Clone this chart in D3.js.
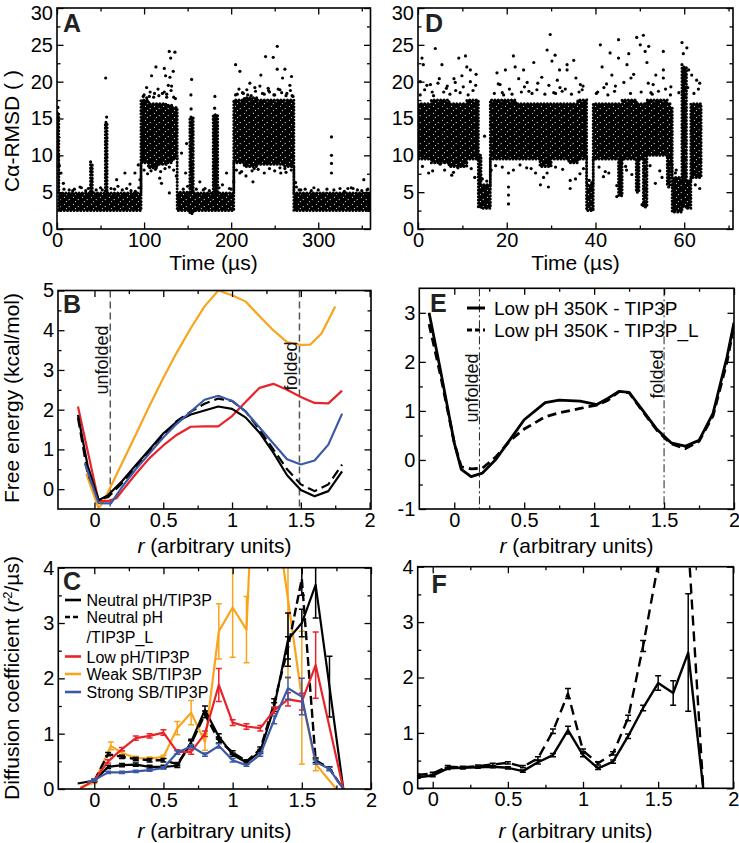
<!DOCTYPE html>
<html><head><meta charset="utf-8">
<script src="https://cdn.jsdelivr.net/npm/d3@7"></script>
<style>body{margin:0;background:#fff} svg{display:block}</style>
</head><body>
<script>
// ---------- Panel A: scatter (dense bands as envelopes + isolated points) ----------
const aBandT  = [0, 2, 38.5, 40.5, 55.5, 57.5, 96.5, 105, 115, 125, 132, 138, 152.6, 156.4, 179.4, 184.5, 203, 215, 230, 245, 260, 272, 360];
const aBandLo = [9.5, 2.5, 2.5, 2.5, 2.5, 2.5, 9, 8.3, 8.8, 9, 9.5, 2.5, 2.1, 2.5, 2.5, 2.5, 9, 8.5, 8.8, 8.8, 8.5, 2.5, 2.5];
const aBandHi = [15.8, 4.9, 8.8, 4.9, 14.5, 4.9, 17.5, 17, 17, 16.8, 16.5, 5, 15.2, 4.9, 15.5, 4.9, 17.5, 17.8, 17.5, 17.5, 17.5, 4.9, 4.9];
const aPtT = [55.9,102.9,108.6,113.6,123.2,129.7,133.5,128.9,135.4,130.5,124.7,123.2,127.8,131.6,154.6,153.8,181.3,205.1,210,221.5,227.2,234.1,239.5,248.3,252.9,252.9,259,261.7,269.3,267.4,256,242.5,315.2,315.2,315.2,315.2,352.3,274,275,97.2,93.3,95.3,89.5,78,68.5,83.8,118,120,129,110,4.6,7.3,2.7,26.4,38.6,39.8,143,148.8,147.7,164,194.7,203,210,225,226.5,257,261.7,340,28,45,62,70,85,150,170,190,285,300,325,338,350,14,20,33,50,75,90,160,175,198,280,292,310,330,345,357,100,106,112,117,126,134,207,213,219,236,244,250,264,270];
const aPtV = [20.5,19.2,20.8,22.0,21.8,20.6,21.4,24.1,24.0,23.2,20.8,18.6,19.5,19.4,20.3,18.2,18.0,22.3,21.4,19.8,19.2,20.9,23.4,23.3,24.8,21.7,20.5,21.7,20.7,19.5,18.9,19.1,12.5,10.0,8.9,7.6,6.7,6.3,5.7,9.4,8.7,6.7,7.6,7.6,6.7,6.1,6.9,6.2,4.9,8.5,7.6,6.2,8.6,5.7,9.1,6.0,10.3,11.6,7.6,6.4,7.6,6.4,7.6,6.4,8.2,7.6,8.2,5.5,5.6,5.3,5.5,5.8,5.2,5.8,5.5,6.0,5.4,5.3,5.5,5.6,5.2,5.3,5.4,5.2,5.6,5.3,5.1,5.4,5.2,5.5,5.3,5.2,5.4,5.1,5.3,5.4,18.2,18.0,18.4,18.1,18.3,17.9,18.3,18.5,18.2,18.4,18.6,18.2,18.4,18.1];
const aPtMore = [[99,18.0],[103,17.8],[107,18.6],[111,17.9],[116,19.0],[121,18.4],[126,17.9],[131,18.8],[136,17.7],[100,8.0],[104,7.5],[108,7.9],[113,8.1],[119,7.8],[124,8.2],[129,8.4],[134,8.0],[137,7.2],[205,18.2],[209,19.0],[214,18.4],[218,18.9],[223,18.1],[228,18.7],[233,19.4],[238,18.3],[243,18.8],[249,18.2],[254,19.0],[258,18.5],[263,18.1],[268,18.8],[271,18.0],[206,8.0],[212,7.8],[217,7.2],[224,7.9],[231,8.1],[238,7.6],[244,8.2],[250,7.9],[256,8.3],[263,7.7],[269,8.0],[1,16.5],[0.5,8.5],[57,15.2],[154,16.3],[181,16.4],[8,5.4],[18,5.2],[36,5.5],[52,5.3],[66,5.4],[80,5.5],[94,5.6],[145,5.4],[168,5.3],[186,5.6],[200,5.4],[278,5.3],[295,5.6],[318,5.3],[334,5.5],[356,5.3]];

// ---------- Panel D ----------
const dBandT  = [0, 3, 7, 11, 13.6, 14.2, 16.3, 22, 27.5, 30, 34, 36, 38, 39.5, 45.2, 46, 49.2, 49.8, 50.8, 51.6, 56.2, 56.8, 57.3, 59.5, 60.5, 61.5, 63.8];
const dBandLo = [9.5, 9, 8.5, 9.5, 3, 2.8, 9.5, 9.5, 8.5, 9.5, 9, 9.5, 2.5, 9.5, 4.5, 9.5, 5, 9.5, 3, 10, 6, 9, 2.3, 3, 2.8, 7, 7];
const dBandHi = [17, 17.5, 17, 17.5, 10, 6, 17.5, 17, 17, 17, 17, 17.5, 6, 17, 17, 17.5, 17, 17, 17, 17.5, 17, 16.5, 7, 22, 6.5, 17, 17];
const dPtT = [0.9,3.9,1.2,5.4,9.2,10.7,11,11.8,9.9,8.1,17.8,19.7,21.5,21.9,23.8,26.1,29.1,29.8,30.2,30.9,31.9,33.6,33.6,35.1,41.1,41.5,43.3,45.2,45.2,47.1,47.5,49.3,50.1,50.8,51.2,52.0,51.6,55.3,55.3,55.3,59.5,59.8,59.5,61,61.7,62.8,0.5,11.8,20.4,20.4,20.4,20.4,27.6,29.1,29.4,34.3,34.3,41.8,44.8,44.8,49.3,50.5,53.5,56.5,2.4,7.6,9.0,15,16.5,25.5,36.5,43,47,54.5,63,2,4.5,6.6,13,18.5,24,27,32,36.6,42.5,44.5,48,53,57,63.5,3.2,8.5,19,25,31,37,40.5,52.5,58.2];
const dPtV = [23.2,24.5,22.3,22.3,23.2,23.5,22,21.6,20.8,20.4,21.2,21.6,23.5,22,21.6,22.6,24.3,26.4,22.8,23.6,21.6,22.3,21.6,22.9,25.0,22.0,23.9,25.7,23.2,22.3,23.8,26.0,25.0,26.3,24.1,24.8,22.6,24.1,21.6,20.5,25.3,23.8,22.3,21.6,20.9,20.2,20.0,20.0,3.4,4.6,5.7,7.6,6.0,7.6,5.7,5.5,6.6,7.1,4.4,5.9,5.3,3.3,6.2,5.7,7.6,7.3,8.3,12.6,8.0,8.2,7.5,7.6,8.0,7.9,7.4,19.5,19.8,19.4,19.5,19.6,19.3,19.8,19.2,19.6,19.7,19.4,20.5,19.6,19.3,19.8,18.6,18.8,18.5,18.7,18.4,18.9,18.6,18.5,8.0];
const dPtMore = [[0.5,18.2],[1.5,18.9],[2.8,19.6],[3.5,18.1],[4.8,20.4],[5.8,18.6],[6.4,19.1],[7.2,18.3],[8.4,19.9],[9.5,18.5],[10.2,19.3],[11.3,18.2],[12.4,18.8],[13.1,21.0],[17.2,18.4],[18.1,19.7],[19.3,18.2],[20.6,19.0],[21.2,18.3],[22.7,20.4],[23.3,18.6],[24.6,19.9],[25.7,18.4],[26.8,18.9],[27.9,20.6],[28.6,18.3],[29.5,19.5],[30.6,18.5],[31.4,20.2],[32.5,18.7],[33.2,19.0],[34.6,18.3],[35.6,20.5],[36.3,18.6],[37.2,19.4],[40.2,18.4],[41.9,19.2],[42.8,18.2],[43.7,20.9],[44.3,18.7],[46.4,19.9],[47.9,18.4],[48.6,21.0],[50.3,18.6],[51.9,19.8],[52.8,18.3],[53.6,20.9],[54.2,18.7],[55.8,19.0],[56.9,18.2],[58.8,18.5],[60.8,19.2],[62.2,18.4],[63.2,19.0],[1,8.5],[3.3,7.9],[5,8.8],[6,8.0],[8,7.7],[10,8.6],[12,8.2],[12.8,7.0],[17.5,8.6],[19,8.4],[21.5,8.0],[23,8.7],[24.5,8.3],[26.5,7.6],[28.3,7.0],[31,8.4],[32.6,8.1],[35.5,6.8],[37.3,8.2],[40.8,8.4],[42.2,7.8],[46.8,8.5],[48.2,7.4],[52.3,8.6],[55,7.0],[57,8.3],[62.5,6.0],[63.5,5.5],[14.5,6.8],[15.5,6.5],[38.6,6.6],[39.2,6.3],[58,7.6],[60.6,24.6]];

// ---------- Panel B: free energy ----------
const bR        = [-0.12, -0.05, 0.03, 0.1, 0.2, 0.3, 0.4, 0.5, 0.6, 0.7, 0.8, 0.9, 1.0, 1.1, 1.2, 1.3, 1.4, 1.5, 1.6, 1.7, 1.8];
const bNeutral  = [1.87, 0.6, -0.28, -0.15, 0.2, 0.6, 1.0, 1.4, 1.7, 1.88, 1.98, 2.08, 2.02, 1.8, 1.42, 0.92, 0.35, -0.02, -0.18, -0.05, 0.45];
const bNeutralL = [1.8, 0.4, -0.25, -0.2, 0.15, 0.55, 0.95, 1.35, 1.72, 1.95, 2.15, 2.28, 2.22, 1.95, 1.5, 1.0, 0.5, 0.12, -0.05, 0.12, 0.62];
const bRedR  = [-0.12, 0.03, 0.1, 0.16, 0.2, 0.3, 0.4, 0.5, 0.6, 0.7, 0.8, 0.9, 1.0, 1.1, 1.2, 1.3, 1.4, 1.5, 1.6, 1.7, 1.8];
const bRed   = [2.08, -0.3, -0.3, -0.23, -0.05, 0.38, 0.78, 1.1, 1.37, 1.57, 1.58, 1.58, 1.84, 2.2, 2.55, 2.65, 2.5, 2.32, 2.17, 2.16, 2.48];
const bBlueR = [-0.07, 0.03, 0.12, 0.2, 0.3, 0.4, 0.5, 0.6, 0.7, 0.8, 0.9, 1.0, 1.1, 1.2, 1.3, 1.4, 1.5, 1.6, 1.7, 1.8];
const bBlue  = [0.65, -0.35, -0.36, 0.05, 0.5, 0.9, 1.3, 1.65, 1.95, 2.25, 2.35, 2.22, 1.95, 1.55, 1.15, 0.75, 0.62, 0.72, 1.12, 1.9];
const bOrR   = [-0.06, 0.03, 0.065, 0.2, 0.3, 0.4, 0.5, 0.6, 0.7, 0.8, 0.9, 1.0, 1.1, 1.2, 1.3, 1.4, 1.5, 1.57, 1.65, 1.75];
const bOr    = [0.39, -0.48, -0.32, 0.65, 1.37, 2.1, 2.8, 3.45, 4.05, 4.6, 5.0, 4.88, 4.72, 4.35, 4.0, 3.7, 3.63, 3.64, 3.92, 4.6];
const bMarks = [0.115, 1.49];

// ---------- Panel E ----------
const eR      = [-0.18, -0.1, 0.0, 0.05, 0.12, 0.2, 0.3, 0.4, 0.5, 0.65, 0.75, 0.9, 1.02, 1.1, 1.18, 1.25, 1.35, 1.45, 1.55, 1.65, 1.75, 1.85, 1.95, 2.0];
const eSolid  = [3.0, 1.85, 0.35, -0.19, -0.34, -0.27, 0.02, 0.42, 0.82, 1.17, 1.22, 1.2, 1.13, 1.26, 1.4, 1.38, 1.0, 0.62, 0.35, 0.28, 0.4, 0.95, 2.1, 2.8];
const eDashed = [2.77, 1.75, 0.35, -0.14, -0.18, -0.17, 0.07, 0.4, 0.63, 0.88, 0.96, 1.05, 1.12, 1.22, 1.4, 1.37, 0.98, 0.6, 0.33, 0.23, 0.38, 0.9, 2.0, 2.75];
const eMarks  = [0.18, 1.5];
const eLegend = ["Low pH 350K - TIP3P", "Low pH 350K - TIP3P_L"];

// ---------- Panel C: diffusion coefficient ----------
const cR           = [-0.12, 0, 0.1, 0.2, 0.3, 0.4, 0.5, 0.6, 0.7, 0.8, 0.9, 1.0, 1.1, 1.2, 1.3, 1.4, 1.5, 1.6, 1.7, 1.8];
const cNeutral     = [0.1, 0.15, 0.4, 0.43, 0.44, 0.4, 0.4, 0.42, 0.85, 1.43, 0.95, 0.62, 0.48, 0.68, 1.48, 2.7, 3.0, 3.69, 1.85, 0];
const cNeutralErr  = [0, 0.02, 0.03, 0.03, 0.03, 0.03, 0.03, 0.03, 0.05, 0.07, 0.05, 0.03, 0.03, 0.04, 0.08, 0.48, 0.25, 0.6, 0.55, 0];
const cLR          = [0, 0.1, 0.2, 0.3, 0.4, 0.5, 0.6, 0.7, 0.8, 0.9, 1.0, 1.1, 1.2, 1.3, 1.4, 1.5, 1.6, 1.7, 1.8];
const cNeutralL    = [0.15, 0.63, 0.58, 0.54, 0.52, 0.52, 0.45, 0.82, 1.35, 0.88, 0.66, 0.5, 0.72, 1.55, 2.55, 3.8, 0.52, 0.37, 0];
const cNeutralLErr = [0.02, 0.03, 0.03, 0.03, 0.03, 0.03, 0.03, 0.05, 0.06, 0.05, 0.03, 0.03, 0.04, 0.08, 0.2, 0.3, 0.04, 0.03, 0];
const cRedR   = [-0.1, 0, 0.1, 0.2, 0.3, 0.4, 0.5, 0.6, 0.7, 0.8, 0.9, 1.0, 1.1, 1.2, 1.3, 1.4, 1.5, 1.6, 1.8];
const cRed    = [0.01, 0.16, 0.5, 0.72, 0.92, 0.96, 1.02, 0.67, 0.67, 1.0, 1.88, 1.2, 1.13, 1.1, 1.42, 1.62, 1.58, 2.24, 0];
const cRedErr = [0, 0.02, 0.03, 0.03, 0.04, 0.04, 0.05, 0.04, 0.04, 0.05, 0.3, 0.05, 0.05, 0.05, 0.06, 0.12, 0.15, 0.6, 0];
const cBlueR   = [-0.05, 0, 0.1, 0.2, 0.3, 0.4, 0.5, 0.6, 0.7, 0.8, 0.9, 1.0, 1.1, 1.2, 1.3, 1.4, 1.5, 1.6, 1.7, 1.8];
const cBlue    = [0.12, 0.16, 0.3, 0.3, 0.32, 0.34, 0.38, 0.66, 0.77, 0.62, 0.78, 0.52, 0.43, 0.62, 1.25, 1.82, 1.67, 0.49, 0.36, 0];
const cBlueErr = [0, 0.02, 0.02, 0.02, 0.02, 0.02, 0.02, 0.03, 0.03, 0.03, 0.04, 0.03, 0.02, 0.03, 0.07, 0.2, 0.33, 0.04, 0.03, 0];
const cOrR   = [-0.1, 0, 0.12, 0.2, 0.3, 0.4, 0.5, 0.6, 0.7, 0.8, 0.9, 1.0, 1.1, 1.2, 1.3, 1.4, 1.5, 1.6, 1.75];
const cOr    = [0.03, 0.12, 0.78, 0.65, 0.56, 0.55, 0.58, 1.1, 1.38, 0.85, 2.85, 3.28, 2.88, 8.5, 5.2, 3.43, 1.65, 0.45, 0];
const cOrErr = [0, 0.02, 0.07, 0.03, 0.03, 0.03, 0.03, 0.12, 0.22, 0.15, 0.5, 0.9, 0.6, 0, 0, 1.43, 1.2, 0.12, 0];
const cLegend = ["Neutral pH/TIP3P", "Neutral pH", "/TIP3P_L", "Low pH/TIP3P", "Weak SB/TIP3P", "Strong SB/TIP3P"];

// ---------- Panel F ----------
const fR         = [-0.1, 0, 0.1, 0.2, 0.3, 0.4, 0.5, 0.6, 0.7, 0.8, 0.9, 1.0, 1.1, 1.2, 1.3, 1.4, 1.5, 1.6, 1.7, 1.8];
const fSolid     = [0.2, 0.23, 0.36, 0.37, 0.38, 0.39, 0.37, 0.31, 0.47, 0.6, 1.05, 0.6, 0.36, 0.48, 0.94, 1.45, 1.9, 1.72, 2.45, 0];
const fSolidErr  = [0.02, 0.02, 0.02, 0.02, 0.02, 0.02, 0.02, 0.02, 0.03, 0.03, 0.07, 0.03, 0.02, 0.03, 0.04, 0.05, 0.13, 0.22, 1.06, 0];
const fDashed    = [0.24, 0.27, 0.39, 0.38, 0.4, 0.43, 0.46, 0.39, 0.54, 1.03, 1.71, 0.68, 0.45, 0.63, 1.27, 2.57, 4.05, 5.5, 4.44, 0];
const fDashedErr = [0.02, 0.02, 0.02, 0.02, 0.02, 0.02, 0.02, 0.02, 0.03, 0.04, 0.09, 0.03, 0.03, 0.03, 0.05, 0.1, 0, 0, 0, 0];

const RED = "#e8232a", ORANGE = "#f9a51b", BLUE = "#3b59a6";
const FONT = '"Liberation Sans", Arial, Helvetica, sans-serif';

const svg = d3.select("body").append("svg").attr("width", 739).attr("height", 843)
  .style("font-family", FONT);
const defs = svg.append("defs");
// speckled texture for the dense scatter clouds
const pat = defs.append("pattern").attr("id", "speck").attr("patternUnits", "userSpaceOnUse")
  .attr("width", 9).attr("height", 7);
pat.append("rect").attr("width", 9).attr("height", 7).attr("fill", "#000");
[[1.5, 1.2], [6.2, 3.6], [3.4, 5.6]].forEach(c =>
  pat.append("circle").attr("cx", c[0]).attr("cy", c[1]).attr("r", 0.55).attr("fill", "#fff"));

function panel(o) {
  const x = d3.scaleLinear().domain(o.xd).range([o.l, o.r]);
  const y = d3.scaleLinear().domain(o.yd).range([o.b, o.t]);
  const cid = "clip" + o.name;
  defs.append("clipPath").attr("id", cid).append("rect")
    .attr("x", o.l).attr("y", o.t).attr("width", o.r - o.l).attr("height", o.b - o.t);
  const plot = svg.append("g").attr("clip-path", `url(#${cid})`);
  return { x, y, plot, o };
}

function finish(p) {
  const { x, y, o } = p;
  const sides = [
    { fn: d3.axisBottom, s: x, tr: `translate(0,${o.b})`, maj: o.xMajor, min: o.xMinor, lab: true, v: false },
    { fn: d3.axisTop, s: x, tr: `translate(0,${o.t})`, maj: o.xMajor, min: o.xMinor, lab: false, v: false },
    { fn: d3.axisLeft, s: y, tr: `translate(${o.l},0)`, maj: o.yMajor, min: o.yMinor, lab: true, v: true },
    { fn: d3.axisRight, s: y, tr: `translate(${o.r},0)`, maj: o.yMajor, min: o.yMinor, lab: false, v: true }
  ];
  sides.forEach(sd => {
    const gMin = svg.append("g").attr("transform", sd.tr)
      .call(sd.fn(sd.s).tickValues(sd.min).tickSizeInner(-3.5).tickSizeOuter(0).tickFormat(""));
    const gMaj = svg.append("g").attr("transform", sd.tr)
      .call(sd.fn(sd.s).tickValues(sd.maj).tickSizeInner(-6.5).tickSizeOuter(0).tickPadding(4)
        .tickFormat(sd.lab ? (d => String(d)) : ""));
    [gMin, gMaj].forEach(gg => {
      gg.select(".domain").remove();
      gg.selectAll("line").attr("stroke", "#000").attr("stroke-width", 1.3);
      gg.selectAll("text").attr("font-size", 20).attr("fill", "#000").attr("font-family", FONT);
    });
    if (sd.v && sd.lab) {
      // keep the topmost label inside the picture
      gMaj.selectAll(".tick text").filter(d => sd.s(d) < 14).attr("dy", "0.55em");
    }
  });
  svg.append("rect").attr("x", o.l).attr("y", o.t).attr("width", o.r - o.l).attr("height", o.b - o.t)
    .attr("fill", "none").attr("stroke", "#000").attr("stroke-width", 1.6);
  svg.append("text").attr("x", o.letterX).attr("y", o.letterY).text(o.name)
    .attr("font-size", 25).attr("font-weight", "bold").attr("fill", "#222");
}

function lineOf(p, xs, ys, color, width, dash) {
  const data = xs.map((v, i) => [v, ys[i]]);
  p.plot.append("path").datum(data)
    .attr("d", d3.line().x(d => p.x(d[0])).y(d => p.y(d[1])))
    .attr("fill", "none").attr("stroke", color).attr("stroke-width", width)
    .attr("stroke-linejoin", "round")
    .attr("stroke-dasharray", dash || null);
}
function errs(p, xs, ys, es, color) {
  const g = p.plot.append("g").attr("stroke", color).attr("stroke-width", 1.5);
  xs.forEach((v, i) => {
    const e = es[i];
    if (!e) return;
    const px = p.x(v), y0 = p.y(ys[i] - e), y1 = p.y(ys[i] + e);
    g.append("line").attr("x1", px).attr("x2", px).attr("y1", y0).attr("y2", y1);
    g.append("line").attr("x1", px - 3).attr("x2", px + 3).attr("y1", y0).attr("y2", y0);
    g.append("line").attr("x1", px - 3).attr("x2", px + 3).attr("y1", y1).attr("y2", y1);
  });
}
function scatter(p, bT, bLo, bHi, ptT, ptV, more) {
  const band = bT.map((t, i) => ({ t, lo: bLo[i], hi: bHi[i] }));
  const areaGen = d3.area().x(d => p.x(d.t)).y0(d => p.y(d.lo)).y1(d => p.y(d.hi)).curve(d3.curveStepAfter);
  p.plot.append("path").datum(band).attr("d", areaGen).attr("fill", "url(#speck)");
  // ragged, dotted fringe around the cloud
  p.plot.append("path").datum(band).attr("d", areaGen).attr("fill", "none")
    .attr("stroke", "#000").attr("stroke-width", 3).attr("stroke-linecap", "round")
    .attr("stroke-dasharray", "0.1,3.2");
  const pts = ptT.map((t, i) => [t, ptV[i]]).concat(more);
  p.plot.selectAll(null).data(pts).enter().append("circle")
    .attr("cx", d => p.x(d[0])).attr("cy", d => p.y(d[1])).attr("r", 1.6).attr("fill", "#000");
}
function yTitle(x, y, parts) {
  const t = svg.append("text").attr("transform", `translate(${x},${y}) rotate(-90)`)
    .attr("text-anchor", "middle").attr("font-size", 21).attr("fill", "#000");
  parts.forEach(pt => {
    const s = t.append("tspan").text(pt.t);
    if (pt.i) s.attr("font-style", "italic");
    if (pt.sup) s.attr("baseline-shift", "super").attr("font-size", 13);
  });
}
function xTitleR(cx, y) {
  const t = svg.append("text").attr("x", cx).attr("y", y).attr("text-anchor", "middle")
    .attr("font-size", 21).attr("fill", "#000");
  t.append("tspan").text("r").attr("font-style", "italic");
  t.append("tspan").text(" (arbitrary units)");
}
function vmark(p, r, label, dash, color, w, baseX, cy) {
  p.plot.append("line").attr("x1", p.x(r)).attr("x2", p.x(r)).attr("y1", p.o.t).attr("y2", p.o.b)
    .attr("stroke", color).attr("stroke-width", w).attr("stroke-dasharray", dash);
  svg.append("text").attr("transform", `translate(${baseX},${cy}) rotate(-90)`)
    .attr("text-anchor", "middle").attr("font-size", 18).attr("fill", "#111").text(label);
}

// ---- A ----
const pA = panel({ name: "A", l: 57, r: 370.5, t: 8, b: 229, xd: [0, 360], yd: [0, 30],
  xMajor: [0, 100, 200, 300], xMinor: [50, 150, 250, 350],
  yMajor: [0, 5, 10, 15, 20, 25, 30], yMinor: [2.5, 7.5, 12.5, 17.5, 22.5, 27.5],
  letterX: 63, letterY: 31.5 });
scatter(pA, aBandT, aBandLo, aBandHi, aPtT, aPtV, aPtMore);
finish(pA);
svg.append("text").attr("x", 213.5).attr("y", 270).attr("text-anchor", "middle")
  .attr("font-size", 21).text("Time (µs)");
yTitle(19, 131, [{ t: "Cα-RMSD ( )" }]);

// ---- D ----
const pD = panel({ name: "D", l: 418, r: 733, t: 8, b: 229, xd: [0, 71], yd: [0, 30],
  xMajor: [0, 20, 40, 60], xMinor: [10, 30, 50, 70],
  yMajor: [0, 5, 10, 15, 20, 25, 30], yMinor: [2.5, 7.5, 12.5, 17.5, 22.5, 27.5],
  letterX: 425, letterY: 31.5 });
scatter(pD, dBandT, dBandLo, dBandHi, dPtT, dPtV, dPtMore);
finish(pD);
svg.append("text").attr("x", 575.5).attr("y", 270).attr("text-anchor", "middle")
  .attr("font-size", 21).text("Time (µs)");

// ---- B ----
const pB = panel({ name: "B", l: 58, r: 371, t: 290.5, b: 509, xd: [-0.265, 2.01], yd: [-0.5, 5],
  xMajor: [0, 0.5, 1, 1.5, 2], xMinor: [0.25, 0.75, 1.25, 1.75],
  yMajor: [0, 1, 2, 3, 4, 5], yMinor: [0.5, 1.5, 2.5, 3.5, 4.5],
  letterX: 63, letterY: 313 });
vmark(pB, bMarks[0], "unfolded", "7,4", "#555", 1.5, 108, 360);
vmark(pB, bMarks[1], "folded", "7,4", "#555", 1.5, 297, 366);
lineOf(pB, bOrR, bOr, ORANGE, 2.2);
lineOf(pB, bRedR, bRed, RED, 2.2);
lineOf(pB, bR, bNeutralL, "#000", 2.2, "10,5");
lineOf(pB, bR, bNeutral, "#000", 2.2);
lineOf(pB, bBlueR, bBlue, BLUE, 2.2);
finish(pB);
xTitleR(214.5, 553);
yTitle(19, 398, [{ t: "Free energy (kcal/mol)" }]);

// ---- E ----
const pE = panel({ name: "E", l: 419.3, r: 734, t: 288.3, b: 509, xd: [-0.25, 2], yd: [-1, 3.5],
  xMajor: [0, 0.5, 1, 1.5, 2], xMinor: [0.25, 0.75, 1.25, 1.75],
  yMajor: [-1, 0, 1, 2, 3], yMinor: [-0.5, 0.5, 1.5, 2.5],
  letterX: 430, letterY: 312 });
vmark(pE, eMarks[0], "unfolded", "8,3,2,3", "#222", 1, 478, 388);
vmark(pE, eMarks[1], "folded", "8,3,2,3", "#222", 1, 663, 374);
lineOf(pE, eR, eDashed, "#000", 2.8, "9,5");
lineOf(pE, eR, eSolid, "#000", 2.8);
finish(pE);
xTitleR(576.5, 553);
[[0, null], [1, "5,3"]].forEach(([i, dash]) => {
  const yy = 308 + i * 22;
  svg.append("line").attr("x1", 467).attr("x2", 485).attr("y1", yy).attr("y2", yy)
    .attr("stroke", "#000").attr("stroke-width", 3).attr("stroke-dasharray", dash);
  svg.append("text").attr("x", 494).attr("y", yy + 7).attr("font-size", 19).text(eLegend[i]);
});

// ---- C ----
const pC = panel({ name: "C", l: 58.3, r: 371, t: 567.7, b: 789, xd: [-0.26, 2.0], yd: [0, 4],
  xMajor: [0, 0.5, 1, 1.5, 2], xMinor: [0.25, 0.75, 1.25, 1.75],
  yMajor: [0, 1, 2, 3, 4], yMinor: [0.5, 1.5, 2.5, 3.5],
  letterX: 63, letterY: 590 });
lineOf(pC, cOrR, cOr, ORANGE, 2.2); errs(pC, cOrR, cOr, cOrErr, ORANGE);
lineOf(pC, cLR, cNeutralL, "#000", 2.4, "9,4"); errs(pC, cLR, cNeutralL, cNeutralLErr, "#000");
lineOf(pC, cR, cNeutral, "#000", 2.2); errs(pC, cR, cNeutral, cNeutralErr, "#000");
lineOf(pC, cRedR, cRed, RED, 2.2); errs(pC, cRedR, cRed, cRedErr, RED);
lineOf(pC, cBlueR, cBlue, BLUE, 2.2); errs(pC, cBlueR, cBlue, cBlueErr, BLUE);
finish(pC);
xTitleR(214.5, 838);
yTitle(19, 678, [{ t: "Diffusion coefficient (" }, { t: "r", i: true }, { t: "2", sup: true }, { t: "/µs)" }]);
const legRows = [
  { y: 600, color: "#000", dash: null, txt: cLegend[0] },
  { y: 617, color: "#000", dash: "5,3", txt: cLegend[1] },
  { y: 636.5, color: null, dash: null, txt: cLegend[2] },
  { y: 656.5, color: RED, dash: null, txt: cLegend[3] },
  { y: 674, color: ORANGE, dash: null, txt: cLegend[4] },
  { y: 692, color: BLUE, dash: null, txt: cLegend[5] }
];
legRows.forEach(r => {
  if (r.color) svg.append("line").attr("x1", 65).attr("x2", 81).attr("y1", r.y).attr("y2", r.y)
    .attr("stroke", r.color).attr("stroke-width", 2.6).attr("stroke-dasharray", r.dash);
  svg.append("text").attr("x", 86.5).attr("y", r.y + 6).attr("font-size", 16).text(r.txt);
});

// ---- F ----
const pF = panel({ name: "F", l: 417.7, r: 733.3, t: 566.7, b: 788.3, xd: [-0.1, 2], yd: [0, 4],
  xMajor: [0, 0.5, 1, 1.5, 2], xMinor: [0.25, 0.75, 1.25, 1.75],
  yMajor: [0, 1, 2, 3, 4], yMinor: [0.5, 1.5, 2.5, 3.5],
  letterX: 431.5, letterY: 593 });
lineOf(pF, fR, fDashed, "#000", 2.4, "10,6"); errs(pF, fR, fDashed, fDashedErr, "#000");
lineOf(pF, fR, fSolid, "#000", 2.4); errs(pF, fR, fSolid, fSolidErr, "#000");
finish(pF);
xTitleR(575.5, 838);
</script>
</body></html>
